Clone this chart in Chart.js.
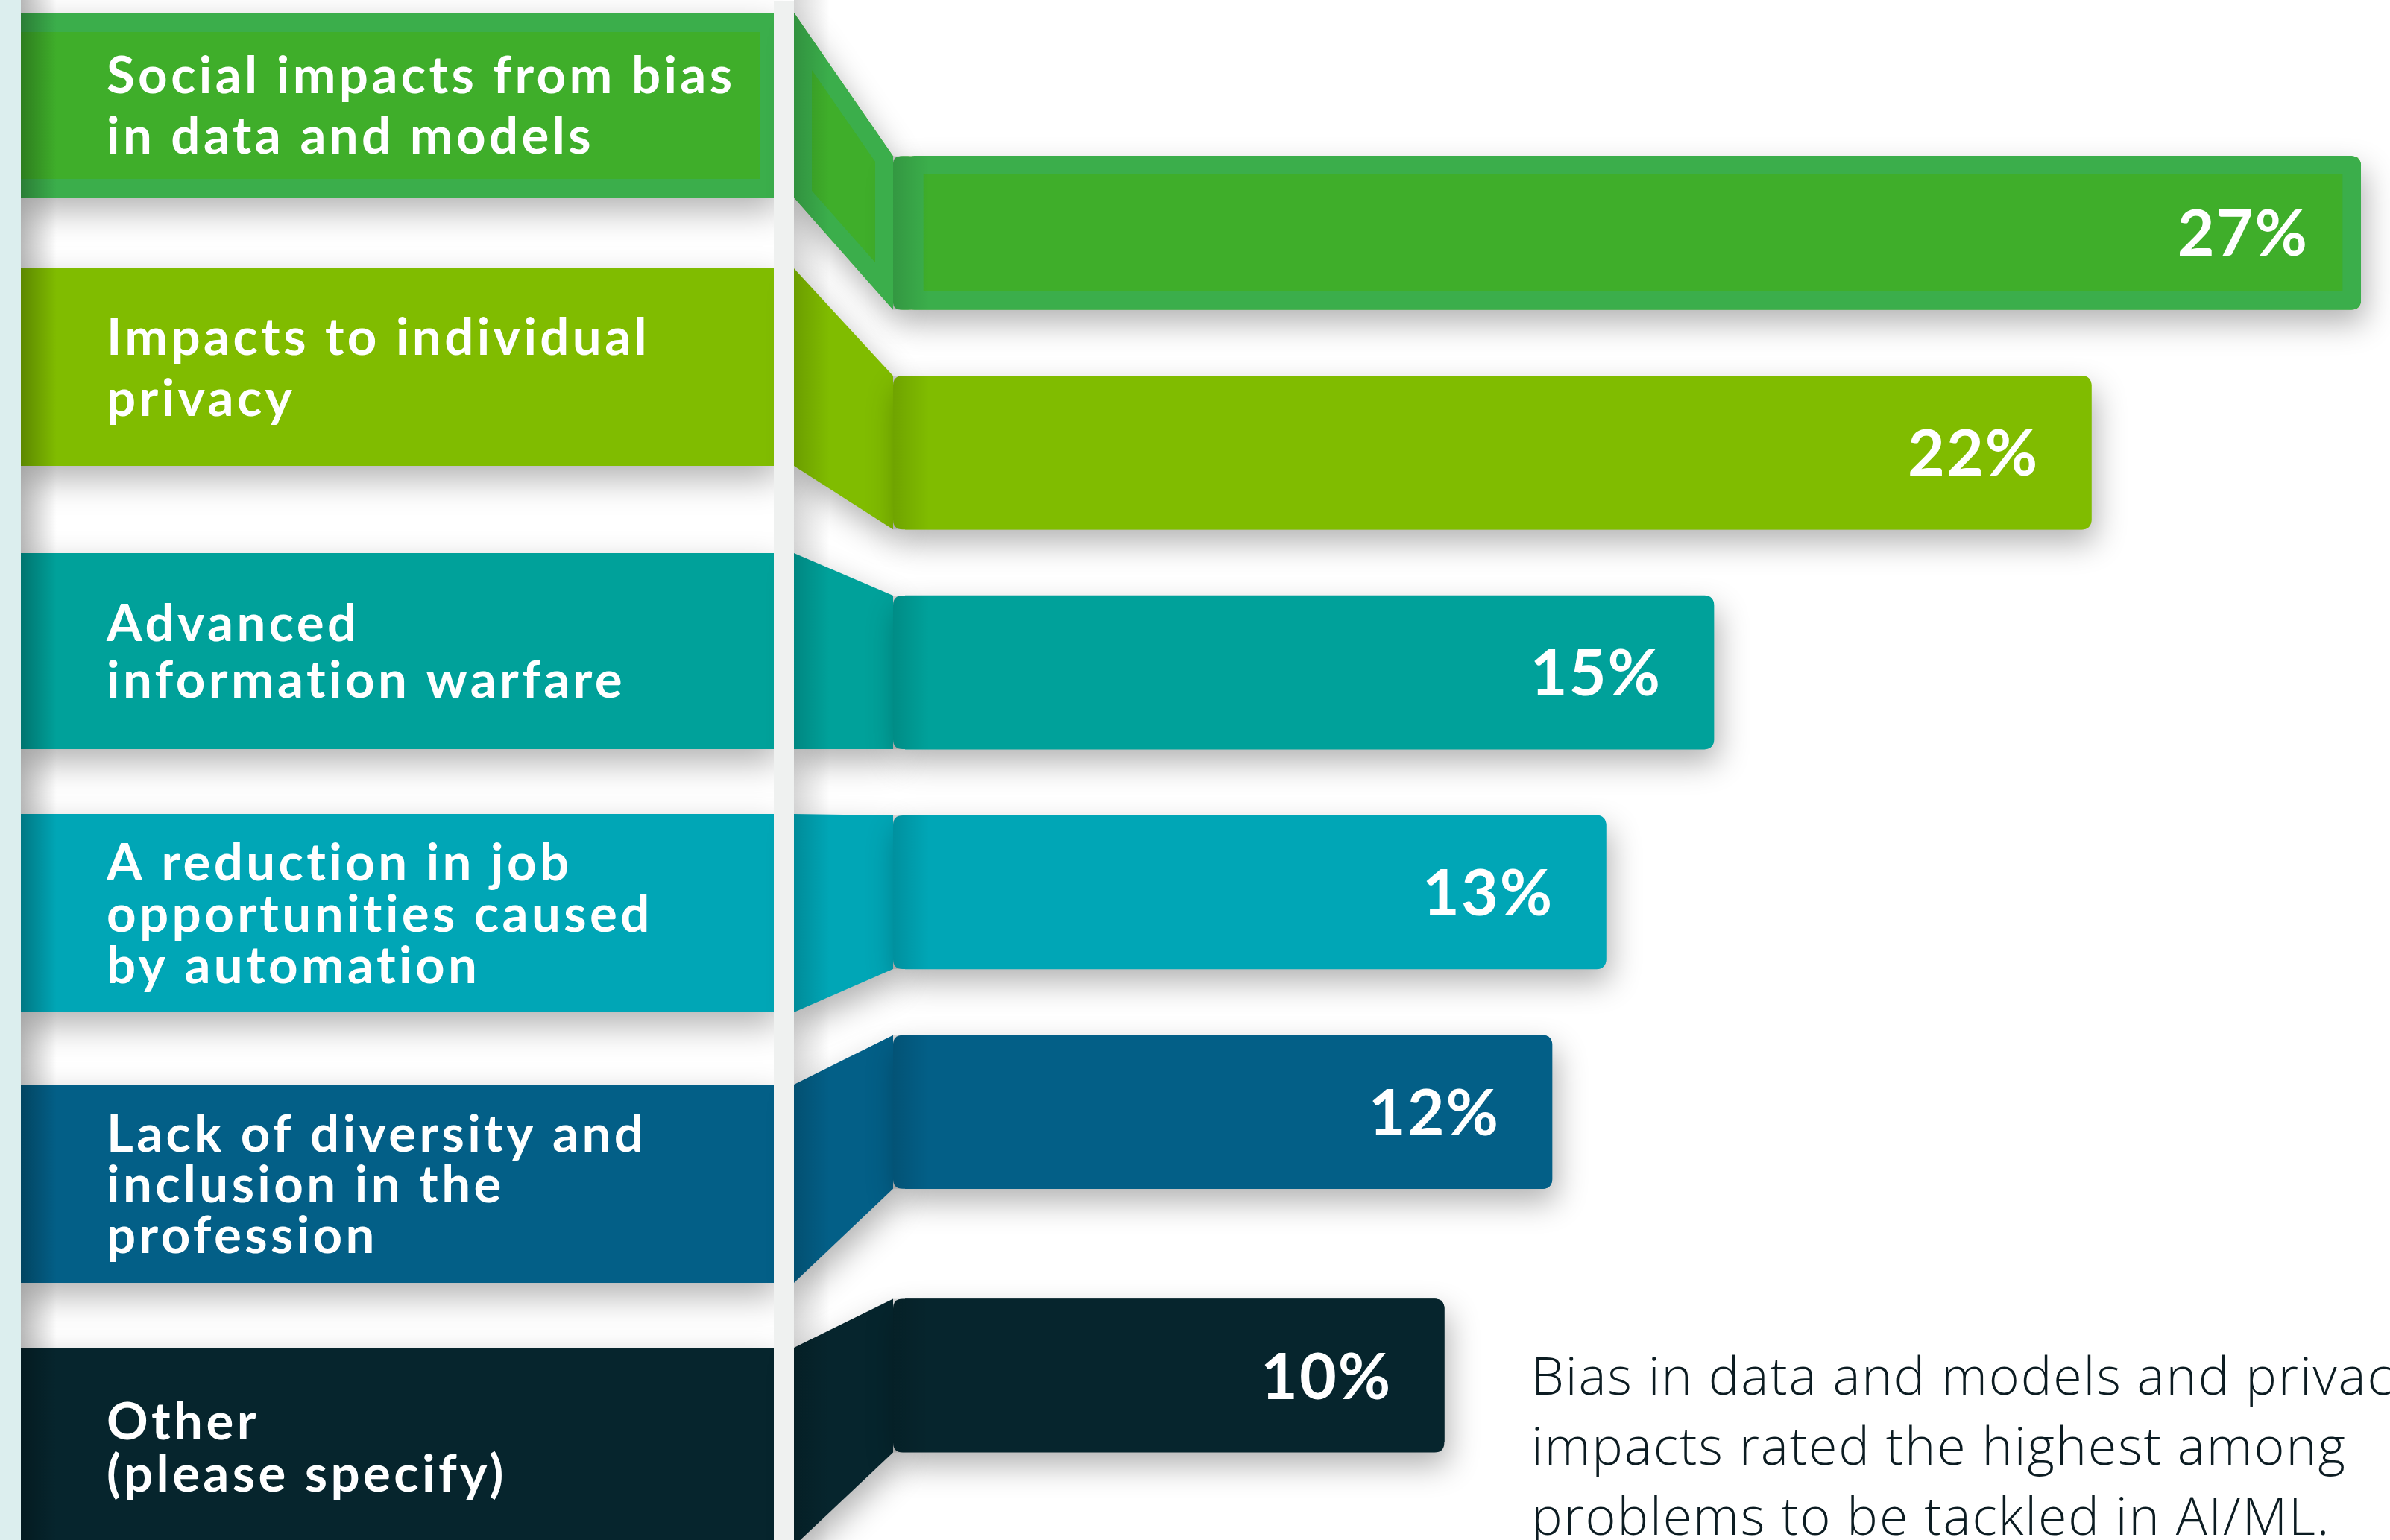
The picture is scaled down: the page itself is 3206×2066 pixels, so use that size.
<!DOCTYPE html>
<html>
<head>
<meta charset="utf-8">
<script src="https://cdn.jsdelivr.net/npm/chart.js@4.4.1/dist/chart.umd.min.js"></script>
<style>
  html, body { margin: 0; padding: 0; background: #ffffff; }
  #wrap { width: 3206px; height: 2066px; position: relative; }
  canvas { display: block; }
</style>
</head>
<body>
<div id="wrap"><canvas id="c" width="3206" height="2066"></canvas></div>
<script>
// ---------------- data ----------------
const categories = [
  ['Social impacts from bias', 'in data and models'],
  ['Impacts to individual', 'privacy'],
  ['Advanced', 'information warfare'],
  ['A reduction in job', 'opportunities caused', 'by automation'],
  ['Lack of diversity and', 'inclusion in the', 'profession'],
  ['Other', '(please specify)']
];
const shares = [27, 22, 15, 13, 12, 10];
const valueLabels = ['27%', '22%', '15%', '13%', '12%', '10%'];
const noteLines = [
  'Bias in data and models and privacy',
  'impacts rated the highest among',
  'problems to be tackled in AI/ML.'
];

// ---------------- style / layout ----------------
const barColors = ['#3fae2a', '#80bc00', '#00a19a', '#00a6b6', '#035f87', '#06252d'];
const firstBorder = '#3bae4b';
const L = {
  stripW: 28,
  boxL: 28, boxR: 1038,
  divL: 1038, divR: 1065,
  joinX: 1198,
  boxes: [[17, 265], [360, 625], [742, 1005], [1092, 1358], [1455, 1721], [1808, 2074]],
  lineH: [81, 82, 76, 69, 68, 70],
  textX: 143,
  labelFont: 69,
  refLineWidth: 839,      // width of "Social impacts from bias"
  valueFont: 86,
  valueInset: 70,
  noteX: 2054,
  noteBase: [1871, 1965, 2059],
  noteFont: 70,
  noteRefWidth: 1092      // width of second note line
};

// custom category scale that opens an extra gap before a given category
class GapCategoryScale extends Chart.CategoryScale {
  getPixelForValue(value, index) {
    let v = value;
    if (typeof v !== 'number') v = this.parse(v);
    const px = super.getPixelForValue(value, index);
    const g = this.options.gap || {};
    return (v !== null && g.from !== undefined && v >= g.from) ? px + (g.size || 0) : px;
  }
}
GapCategoryScale.id = 'gapCategory';
GapCategoryScale.defaults = {};
Chart.register(GapCategoryScale);

function rr(ctx, x, y, w, h, r) {
  ctx.beginPath();
  ctx.moveTo(x + r, y);
  ctx.lineTo(x + w - r, y);
  ctx.quadraticCurveTo(x + w, y, x + w, y + r);
  ctx.lineTo(x + w, y + h - r);
  ctx.quadraticCurveTo(x + w, y + h, x + w - r, y + h);
  ctx.lineTo(x + r, y + h);
  ctx.quadraticCurveTo(x, y + h, x, y + h - r);
  ctx.lineTo(x, y + r);
  ctx.quadraticCurveTo(x, y, x + r, y);
  ctx.closePath();
}
function hGrad(ctx, x0, x1, a) {
  const g = ctx.createLinearGradient(x0, 0, x1, 0);
  g.addColorStop(0, 'rgba(0,0,0,' + a + ')');
  g.addColorStop(1, 'rgba(0,0,0,0)');
  return g;
}
function setShadow(ctx) {
  ctx.shadowColor = 'rgba(0,0,0,0.30)';
  ctx.shadowBlur = 42;
  ctx.shadowOffsetX = 6;
  ctx.shadowOffsetY = 18;
}
function getBars(chart) {
  return chart.getDatasetMeta(0).data.map(el => el.getProps(['x', 'y', 'base', 'height'], true));
}
function connectorPath(ctx, i, bar) {
  const [t, b] = L.boxes[i];
  ctx.beginPath();
  ctx.moveTo(L.divR, t);
  ctx.lineTo(L.joinX, bar.y - bar.height / 2);
  ctx.lineTo(L.joinX, bar.y + bar.height / 2);
  ctx.lineTo(L.divR, b);
  ctx.closePath();
}

const decor = {
  id: 'decor',
  beforeDraw(chart) {
    const ctx = chart.ctx;
    ctx.save();
    ctx.fillStyle = '#ffffff';
    ctx.fillRect(0, 0, chart.width, chart.height);
    ctx.restore();
  },
  beforeDatasetsDraw(chart) {
    const ctx = chart.ctx;
    const bars = getBars(chart);
    ctx.save();
    setShadow(ctx);
    // label boxes
    L.boxes.forEach(([t, b], i) => {
      ctx.fillStyle = i === 0 ? firstBorder : barColors[i];
      ctx.fillRect(L.boxL, t, L.boxR - L.boxL, b - t);
    });
    // connectors
    bars.forEach((bar, i) => {
      ctx.fillStyle = barColors[i];
      connectorPath(ctx, i, bar);
      ctx.fill();
    });
    // bar shadows (bar body extended back to the fold)
    bars.forEach((bar, i) => {
      ctx.fillStyle = barColors[i];
      rr(ctx, L.joinX, bar.y - bar.height / 2, bar.x - L.joinX, bar.height, 13);
      ctx.fill();
    });
    ctx.restore();

    // first box: inner fill (framed look)
    ctx.save();
    ctx.fillStyle = barColors[0];
    ctx.fillRect(L.boxL, L.boxes[0][0] + 26, 1020 - L.boxL, (L.boxes[0][1] - 25) - (L.boxes[0][0] + 26));
    // first connector frame
    connectorPath(ctx, 0, bars[0]);
    ctx.clip();
    ctx.lineWidth = 48;
    ctx.lineJoin = 'miter';
    ctx.strokeStyle = firstBorder;
    connectorPath(ctx, 0, bars[0]);
    ctx.stroke();
    ctx.restore();
    // strip between fold and bar base for the framed first bar
    ctx.save();
    ctx.fillStyle = firstBorder;
    rr(ctx, L.joinX, bars[0].y - bars[0].height / 2, bars[0].base - L.joinX + 14, bars[0].height, 10);
    ctx.fill();
    ctx.restore();

    // divider strip and left strip
    ctx.save();
    ctx.fillStyle = '#eff1f0';
    ctx.fillRect(L.divL, 2, L.divR - L.divL, chart.height);
    ctx.fillStyle = '#dceeee';
    ctx.fillRect(0, 0, L.stripW, chart.height);
    ctx.restore();
  },
  afterDatasetsDraw(chart) {
    const ctx = chart.ctx;
    const bars = getBars(chart);
    ctx.save();
    // shading overlays
    ctx.fillStyle = hGrad(ctx, L.stripW, L.stripW + 48, 0.28);
    ctx.fillRect(L.stripW, 0, 48, chart.height);
    ctx.fillStyle = hGrad(ctx, L.divR, L.divR + 48, 0.16);
    ctx.fillRect(L.divR, 0, 48, chart.height);
    bars.forEach(bar => {
      ctx.fillStyle = hGrad(ctx, L.joinX, L.joinX + 48, 0.13);
      ctx.fillRect(L.joinX, bar.y - bar.height / 2, 48, bar.height);
    });

    // category labels inside the left boxes
    ctx.fillStyle = '#ffffff';
    ctx.textAlign = 'left';
    ctx.textBaseline = 'alphabetic';
    ctx.font = '700 ' + L.labelFont + 'px Lato, "Open Sans", sans-serif';
    const ref = categories[0][0];
    const w0 = ctx.measureText(ref).width;
    const ls = Math.max(0, (L.refLineWidth - w0) / (ref.length - 1));
    if ('letterSpacing' in ctx) ctx.letterSpacing = ls.toFixed(2) + 'px';
    const cap = L.labelFont * 0.72;
    categories.forEach((lines, i) => {
      const [t, b] = L.boxes[i];
      const c = (t + b) / 2;
      const lh = L.lineH[i];
      const first = c - (lines.length - 1) * lh / 2 + cap / 2;
      lines.forEach((s, k) => ctx.fillText(s, L.textX, first + k * lh));
    });
    if ('letterSpacing' in ctx) ctx.letterSpacing = '0px';

    // value labels
    ctx.font = '700 ' + L.valueFont + 'px Lato, "Open Sans", sans-serif';
    ctx.textAlign = 'right';
    if ('letterSpacing' in ctx) ctx.letterSpacing = '2px';
    bars.forEach((bar, i) => {
      ctx.fillText(valueLabels[i], bar.x - L.valueInset, bar.y + L.valueFont * 0.72 / 2);
    });
    if ('letterSpacing' in ctx) ctx.letterSpacing = '0px';

    // note text
    ctx.fillStyle = '#0c1c22';
    ctx.textAlign = 'left';
    ctx.font = '300 ' + L.noteFont + 'px "Open Sans", Lato, sans-serif';
    const nw = ctx.measureText(noteLines[1]).width;
    const nls = Math.max(-3, Math.min(6, (L.noteRefWidth - nw) / (noteLines[1].length - 1)));
    if ('letterSpacing' in ctx) ctx.letterSpacing = nls.toFixed(2) + 'px';
    noteLines.forEach((s, k) => ctx.fillText(s, L.noteX, L.noteBase[k]));
    ctx.restore();
  }
};

function make() {
  new Chart(document.getElementById('c'), {
    type: 'bar',
    data: {
      labels: categories,
      datasets: [{
        data: shares,
        backgroundColor: barColors,
        borderColor: [firstBorder, ...barColors.slice(1)],
        borderWidth: [25, 0, 0, 0, 0, 0],
        borderSkipped: (c) => c.dataIndex === 0 ? false : 'start',
        borderRadius: 13,
        barThickness: 206
      }]
    },
    options: {
      indexAxis: 'y',
      responsive: false,
      animation: false,
      events: [],
      layout: { padding: { left: 1214, right: 39, top: 165, bottom: 132 } },
      scales: {
        x: { type: 'linear', min: 0, max: 27, display: false, grid: { display: false } },
        y: { type: 'gapCategory', display: false, offset: true, gap: { from: 5, size: 59 }, grid: { display: false } }
      },
      plugins: { legend: { display: false }, tooltip: { enabled: false } }
    },
    plugins: [decor]
  });
}
Promise.all([
  document.fonts.load('700 69px Lato'),
  document.fonts.load('300 70px "Open Sans"')
]).then(make, make);
</script>
</body>
</html>
